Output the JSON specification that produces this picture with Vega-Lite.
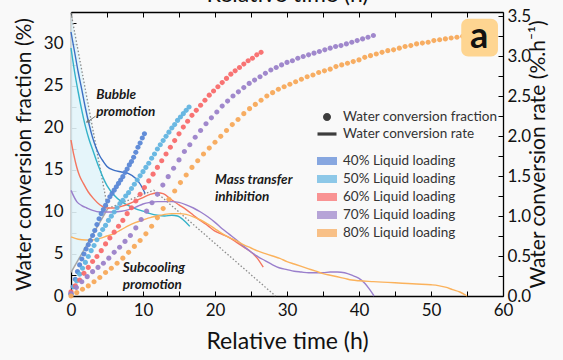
{
"$schema":"https://vega.github.io/schema/vega-lite/v6.json",
"width":432,"height":284,
"autosize":{"type":"none"},
"padding":{"left":71,"top":12,"right":60,"bottom":64},
"background":"#f9f9f9",
"config":{"view":{"stroke":null},"font":"Lato"},
"datasets":{
"rate":[
{"s":"40% Liquid loading","t":0,"r":3.3},{"s":"40% Liquid loading","t":0.5,"r":3.05},{"s":"40% Liquid loading","t":1,"r":2.8},{"s":"40% Liquid loading","t":1.5,"r":2.58},{"s":"40% Liquid loading","t":2,"r":2.35},{"s":"40% Liquid loading","t":2.5,"r":2.15},{"s":"40% Liquid loading","t":3,"r":1.98},{"s":"40% Liquid loading","t":3.5,"r":1.85},{"s":"40% Liquid loading","t":4,"r":1.75},{"s":"40% Liquid loading","t":4.5,"r":1.68},{"s":"40% Liquid loading","t":5,"r":1.62},{"s":"40% Liquid loading","t":6,"r":1.57},{"s":"40% Liquid loading","t":7,"r":1.55},{"s":"40% Liquid loading","t":8,"r":1.53},{"s":"40% Liquid loading","t":9,"r":1.47},{"s":"40% Liquid loading","t":9.6,"r":1.4},{"s":"40% Liquid loading","t":10.3,"r":1.28},
{"s":"50% Liquid loading","t":0,"r":3.1},{"s":"50% Liquid loading","t":0.5,"r":2.8},{"s":"50% Liquid loading","t":1,"r":2.55},{"s":"50% Liquid loading","t":1.5,"r":2.32},{"s":"50% Liquid loading","t":2,"r":2.12},{"s":"50% Liquid loading","t":2.5,"r":1.96},{"s":"50% Liquid loading","t":3,"r":1.83},{"s":"50% Liquid loading","t":3.5,"r":1.7},{"s":"50% Liquid loading","t":4,"r":1.58},{"s":"50% Liquid loading","t":4.5,"r":1.47},{"s":"50% Liquid loading","t":5,"r":1.38},{"s":"50% Liquid loading","t":6,"r":1.26},{"s":"50% Liquid loading","t":7,"r":1.18},{"s":"50% Liquid loading","t":8,"r":1.13},{"s":"50% Liquid loading","t":9,"r":1.09},{"s":"50% Liquid loading","t":10,"r":1.06},{"s":"50% Liquid loading","t":11,"r":1.03},{"s":"50% Liquid loading","t":12,"r":1.01},{"s":"50% Liquid loading","t":13,"r":1.0},{"s":"50% Liquid loading","t":14,"r":1.01},{"s":"50% Liquid loading","t":14.8,"r":1.0},{"s":"50% Liquid loading","t":15.5,"r":0.96},{"s":"50% Liquid loading","t":16.5,"r":0.87},
{"s":"60% Liquid loading","t":0,"r":1.95},{"s":"60% Liquid loading","t":0.4,"r":1.76},{"s":"60% Liquid loading","t":0.8,"r":1.61},{"s":"60% Liquid loading","t":1.2,"r":1.5},{"s":"60% Liquid loading","t":1.7,"r":1.41},{"s":"60% Liquid loading","t":2.4,"r":1.3},{"s":"60% Liquid loading","t":3.1,"r":1.22},{"s":"60% Liquid loading","t":4,"r":1.14},{"s":"60% Liquid loading","t":5,"r":1.1},{"s":"60% Liquid loading","t":6,"r":1.1},{"s":"60% Liquid loading","t":7,"r":1.12},{"s":"60% Liquid loading","t":8,"r":1.15},{"s":"60% Liquid loading","t":9,"r":1.19},{"s":"60% Liquid loading","t":10,"r":1.23},{"s":"60% Liquid loading","t":11,"r":1.27},{"s":"60% Liquid loading","t":12,"r":1.29},{"s":"60% Liquid loading","t":12.8,"r":1.28},{"s":"60% Liquid loading","t":14,"r":1.2},{"s":"60% Liquid loading","t":15,"r":1.14},{"s":"60% Liquid loading","t":16,"r":1.08},{"s":"60% Liquid loading","t":17,"r":1.01},{"s":"60% Liquid loading","t":18,"r":0.94},{"s":"60% Liquid loading","t":19,"r":0.88},{"s":"60% Liquid loading","t":20,"r":0.81},{"s":"60% Liquid loading","t":21,"r":0.77},{"s":"60% Liquid loading","t":22,"r":0.73},{"s":"60% Liquid loading","t":23,"r":0.67},{"s":"60% Liquid loading","t":24,"r":0.61},{"s":"60% Liquid loading","t":25,"r":0.55},{"s":"60% Liquid loading","t":25.8,"r":0.48},{"s":"60% Liquid loading","t":26.7,"r":0.36},
{"s":"70% Liquid loading","t":0,"r":1.32},{"s":"70% Liquid loading","t":0.8,"r":1.18},{"s":"70% Liquid loading","t":1.5,"r":1.13},{"s":"70% Liquid loading","t":2.2,"r":1.1},{"s":"70% Liquid loading","t":3,"r":1.07},{"s":"70% Liquid loading","t":4,"r":1.05},{"s":"70% Liquid loading","t":5,"r":1.05},{"s":"70% Liquid loading","t":6,"r":1.05},{"s":"70% Liquid loading","t":7,"r":1.06},{"s":"70% Liquid loading","t":8,"r":1.08},{"s":"70% Liquid loading","t":9,"r":1.11},{"s":"70% Liquid loading","t":10,"r":1.15},{"s":"70% Liquid loading","t":11,"r":1.17},{"s":"70% Liquid loading","t":12,"r":1.18},{"s":"70% Liquid loading","t":13,"r":1.18},{"s":"70% Liquid loading","t":14,"r":1.18},{"s":"70% Liquid loading","t":15,"r":1.17},{"s":"70% Liquid loading","t":16,"r":1.14},{"s":"70% Liquid loading","t":17,"r":1.1},{"s":"70% Liquid loading","t":18,"r":1.05},{"s":"70% Liquid loading","t":19,"r":0.99},{"s":"70% Liquid loading","t":20,"r":0.92},{"s":"70% Liquid loading","t":21,"r":0.84},{"s":"70% Liquid loading","t":22,"r":0.77},{"s":"70% Liquid loading","t":23,"r":0.7},{"s":"70% Liquid loading","t":24,"r":0.62},{"s":"70% Liquid loading","t":25,"r":0.55},{"s":"70% Liquid loading","t":26,"r":0.49},{"s":"70% Liquid loading","t":27,"r":0.44},{"s":"70% Liquid loading","t":28,"r":0.39},{"s":"70% Liquid loading","t":29,"r":0.35},{"s":"70% Liquid loading","t":30,"r":0.33},{"s":"70% Liquid loading","t":31,"r":0.31},{"s":"70% Liquid loading","t":32,"r":0.3},{"s":"70% Liquid loading","t":33,"r":0.29},{"s":"70% Liquid loading","t":34,"r":0.29},{"s":"70% Liquid loading","t":35,"r":0.29},{"s":"70% Liquid loading","t":36,"r":0.3},{"s":"70% Liquid loading","t":37,"r":0.3},{"s":"70% Liquid loading","t":38,"r":0.29},{"s":"70% Liquid loading","t":39,"r":0.26},{"s":"70% Liquid loading","t":40,"r":0.22},{"s":"70% Liquid loading","t":40.8,"r":0.16},{"s":"70% Liquid loading","t":41.5,"r":0.08},{"s":"70% Liquid loading","t":42.1,"r":0.0},
{"s":"80% Liquid loading","t":0,"r":0.74},{"s":"80% Liquid loading","t":1,"r":0.71},{"s":"80% Liquid loading","t":2,"r":0.7},{"s":"80% Liquid loading","t":3,"r":0.7},{"s":"80% Liquid loading","t":4,"r":0.72},{"s":"80% Liquid loading","t":5,"r":0.75},{"s":"80% Liquid loading","t":6,"r":0.78},{"s":"80% Liquid loading","t":7,"r":0.83},{"s":"80% Liquid loading","t":8,"r":0.88},{"s":"80% Liquid loading","t":9,"r":0.92},{"s":"80% Liquid loading","t":10,"r":0.95},{"s":"80% Liquid loading","t":11,"r":0.98},{"s":"80% Liquid loading","t":12,"r":1.0},{"s":"80% Liquid loading","t":13,"r":1.02},{"s":"80% Liquid loading","t":14,"r":1.03},{"s":"80% Liquid loading","t":15,"r":1.03},{"s":"80% Liquid loading","t":16,"r":1.02},{"s":"80% Liquid loading","t":17,"r":0.99},{"s":"80% Liquid loading","t":18,"r":0.95},{"s":"80% Liquid loading","t":19,"r":0.9},{"s":"80% Liquid loading","t":20,"r":0.84},{"s":"80% Liquid loading","t":21,"r":0.78},{"s":"80% Liquid loading","t":22,"r":0.73},{"s":"80% Liquid loading","t":23,"r":0.69},{"s":"80% Liquid loading","t":24,"r":0.64},{"s":"80% Liquid loading","t":25,"r":0.6},{"s":"80% Liquid loading","t":26,"r":0.56},{"s":"80% Liquid loading","t":27,"r":0.53},{"s":"80% Liquid loading","t":28,"r":0.5},{"s":"80% Liquid loading","t":29,"r":0.47},{"s":"80% Liquid loading","t":30,"r":0.43},{"s":"80% Liquid loading","t":31,"r":0.4},{"s":"80% Liquid loading","t":32,"r":0.37},{"s":"80% Liquid loading","t":33,"r":0.34},{"s":"80% Liquid loading","t":34,"r":0.31},{"s":"80% Liquid loading","t":35,"r":0.28},{"s":"80% Liquid loading","t":36,"r":0.26},{"s":"80% Liquid loading","t":37,"r":0.24},{"s":"80% Liquid loading","t":38,"r":0.22},{"s":"80% Liquid loading","t":39,"r":0.2},{"s":"80% Liquid loading","t":40,"r":0.19},{"s":"80% Liquid loading","t":42,"r":0.18},{"s":"80% Liquid loading","t":44,"r":0.17},{"s":"80% Liquid loading","t":46,"r":0.16},{"s":"80% Liquid loading","t":48,"r":0.15},{"s":"80% Liquid loading","t":50,"r":0.14},{"s":"80% Liquid loading","t":51,"r":0.13},{"s":"80% Liquid loading","t":52,"r":0.11},{"s":"80% Liquid loading","t":53,"r":0.08},{"s":"80% Liquid loading","t":54,"r":0.05},{"s":"80% Liquid loading","t":55,"r":0.0}
],
"frac":[
{"s":"40% Liquid loading","t":0,"f":0.2},{"s":"40% Liquid loading","t":0.3,"f":1.1},{"s":"40% Liquid loading","t":0.6,"f":2.0},{"s":"40% Liquid loading","t":0.9,"f":2.9},{"s":"40% Liquid loading","t":1.2,"f":3.7},{"s":"40% Liquid loading","t":1.5,"f":4.4},{"s":"40% Liquid loading","t":1.8,"f":5.0},{"s":"40% Liquid loading","t":2.1,"f":5.6},{"s":"40% Liquid loading","t":2.4,"f":6.1},{"s":"40% Liquid loading","t":2.7,"f":6.6},{"s":"40% Liquid loading","t":3.0,"f":7.2},{"s":"40% Liquid loading","t":3.3,"f":7.8},{"s":"40% Liquid loading","t":3.6,"f":8.5},{"s":"40% Liquid loading","t":3.9,"f":9.2},{"s":"40% Liquid loading","t":4.2,"f":9.8},{"s":"40% Liquid loading","t":4.5,"f":10.3},{"s":"40% Liquid loading","t":4.8,"f":10.8},{"s":"40% Liquid loading","t":5.1,"f":11.3},{"s":"40% Liquid loading","t":5.4,"f":11.8},{"s":"40% Liquid loading","t":5.7,"f":12.2},{"s":"40% Liquid loading","t":6.0,"f":12.6},{"s":"40% Liquid loading","t":6.3,"f":13.0},{"s":"40% Liquid loading","t":6.6,"f":13.4},{"s":"40% Liquid loading","t":6.9,"f":13.8},{"s":"40% Liquid loading","t":7.2,"f":14.2},{"s":"40% Liquid loading","t":7.5,"f":14.7},{"s":"40% Liquid loading","t":7.8,"f":15.1},{"s":"40% Liquid loading","t":8.1,"f":15.6},{"s":"40% Liquid loading","t":8.4,"f":16.0},{"s":"40% Liquid loading","t":8.7,"f":16.5},{"s":"40% Liquid loading","t":9.0,"f":17.1},{"s":"40% Liquid loading","t":9.3,"f":17.7},{"s":"40% Liquid loading","t":9.6,"f":18.2},{"s":"40% Liquid loading","t":9.9,"f":18.8},{"s":"40% Liquid loading","t":10.2,"f":19.3},
{"s":"50% Liquid loading","t":0,"f":0.3},{"s":"50% Liquid loading","t":0.4,"f":1.1},{"s":"50% Liquid loading","t":0.8,"f":1.8},{"s":"50% Liquid loading","t":1.2,"f":2.6},{"s":"50% Liquid loading","t":1.6,"f":3.3},{"s":"50% Liquid loading","t":2.0,"f":4.0},{"s":"50% Liquid loading","t":2.4,"f":4.7},{"s":"50% Liquid loading","t":2.8,"f":5.4},{"s":"50% Liquid loading","t":3.2,"f":6.0},{"s":"50% Liquid loading","t":3.6,"f":6.7},{"s":"50% Liquid loading","t":4.0,"f":7.3},{"s":"50% Liquid loading","t":4.4,"f":7.9},{"s":"50% Liquid loading","t":4.8,"f":8.4},{"s":"50% Liquid loading","t":5.2,"f":9.0},{"s":"50% Liquid loading","t":5.6,"f":9.5},{"s":"50% Liquid loading","t":6.0,"f":10.0},{"s":"50% Liquid loading","t":6.4,"f":10.5},{"s":"50% Liquid loading","t":6.8,"f":11.0},{"s":"50% Liquid loading","t":7.2,"f":11.4},{"s":"50% Liquid loading","t":7.6,"f":11.9},{"s":"50% Liquid loading","t":8.0,"f":12.3},{"s":"50% Liquid loading","t":8.4,"f":12.8},{"s":"50% Liquid loading","t":8.8,"f":13.3},{"s":"50% Liquid loading","t":9.2,"f":13.8},{"s":"50% Liquid loading","t":9.6,"f":14.3},{"s":"50% Liquid loading","t":10.0,"f":14.8},{"s":"50% Liquid loading","t":10.4,"f":15.3},{"s":"50% Liquid loading","t":10.8,"f":15.8},{"s":"50% Liquid loading","t":11.2,"f":16.4},{"s":"50% Liquid loading","t":11.6,"f":16.9},{"s":"50% Liquid loading","t":12.0,"f":17.5},{"s":"50% Liquid loading","t":12.4,"f":18.0},{"s":"50% Liquid loading","t":12.8,"f":18.5},{"s":"50% Liquid loading","t":13.2,"f":19.0},{"s":"50% Liquid loading","t":13.6,"f":19.5},{"s":"50% Liquid loading","t":14.0,"f":20.0},{"s":"50% Liquid loading","t":14.4,"f":20.4},{"s":"50% Liquid loading","t":14.8,"f":20.9},{"s":"50% Liquid loading","t":15.2,"f":21.3},{"s":"50% Liquid loading","t":15.6,"f":21.7},{"s":"50% Liquid loading","t":16.0,"f":22.1},{"s":"50% Liquid loading","t":16.4,"f":22.5},
{"s":"60% Liquid loading","t":0,"f":0.5},{"s":"60% Liquid loading","t":0.6,"f":1.2},{"s":"60% Liquid loading","t":1.2,"f":1.9},{"s":"60% Liquid loading","t":1.8,"f":2.7},{"s":"60% Liquid loading","t":2.4,"f":3.4},{"s":"60% Liquid loading","t":3.0,"f":4.1},{"s":"60% Liquid loading","t":3.6,"f":4.7},{"s":"60% Liquid loading","t":4.2,"f":5.4},{"s":"60% Liquid loading","t":4.8,"f":6.2},{"s":"60% Liquid loading","t":5.4,"f":6.9},{"s":"60% Liquid loading","t":6.0,"f":7.6},{"s":"60% Liquid loading","t":6.6,"f":8.3},{"s":"60% Liquid loading","t":7.2,"f":9.0},{"s":"60% Liquid loading","t":7.8,"f":9.8},{"s":"60% Liquid loading","t":8.4,"f":10.5},{"s":"60% Liquid loading","t":9.0,"f":11.3},{"s":"60% Liquid loading","t":9.6,"f":12.1},{"s":"60% Liquid loading","t":10.2,"f":12.9},{"s":"60% Liquid loading","t":10.8,"f":13.7},{"s":"60% Liquid loading","t":11.4,"f":14.5},{"s":"60% Liquid loading","t":12.0,"f":15.3},{"s":"60% Liquid loading","t":12.6,"f":16.1},{"s":"60% Liquid loading","t":13.2,"f":16.9},{"s":"60% Liquid loading","t":13.8,"f":17.7},{"s":"60% Liquid loading","t":14.4,"f":18.5},{"s":"60% Liquid loading","t":15.0,"f":19.3},{"s":"60% Liquid loading","t":15.6,"f":20.1},{"s":"60% Liquid loading","t":16.2,"f":20.8},{"s":"60% Liquid loading","t":16.8,"f":21.5},{"s":"60% Liquid loading","t":17.4,"f":22.1},{"s":"60% Liquid loading","t":18.0,"f":22.7},{"s":"60% Liquid loading","t":18.6,"f":23.3},{"s":"60% Liquid loading","t":19.2,"f":23.9},{"s":"60% Liquid loading","t":19.8,"f":24.4},{"s":"60% Liquid loading","t":20.4,"f":24.9},{"s":"60% Liquid loading","t":21.0,"f":25.4},{"s":"60% Liquid loading","t":21.6,"f":25.9},{"s":"60% Liquid loading","t":22.2,"f":26.4},{"s":"60% Liquid loading","t":22.8,"f":26.8},{"s":"60% Liquid loading","t":23.4,"f":27.2},{"s":"60% Liquid loading","t":24.0,"f":27.6},{"s":"60% Liquid loading","t":24.6,"f":28.0},{"s":"60% Liquid loading","t":25.2,"f":28.3},{"s":"60% Liquid loading","t":25.8,"f":28.7},{"s":"60% Liquid loading","t":26.4,"f":29.0},
{"s":"70% Liquid loading","t":0,"f":0.3},{"s":"70% Liquid loading","t":0.75,"f":1.0},{"s":"70% Liquid loading","t":1.5,"f":1.7},{"s":"70% Liquid loading","t":2.25,"f":2.3},{"s":"70% Liquid loading","t":3.0,"f":2.9},{"s":"70% Liquid loading","t":3.75,"f":3.4},{"s":"70% Liquid loading","t":4.5,"f":3.9},{"s":"70% Liquid loading","t":5.25,"f":4.5},{"s":"70% Liquid loading","t":6.0,"f":5.2},{"s":"70% Liquid loading","t":6.75,"f":5.8},{"s":"70% Liquid loading","t":7.5,"f":6.5},{"s":"70% Liquid loading","t":8.25,"f":7.2},{"s":"70% Liquid loading","t":9.0,"f":8.1},{"s":"70% Liquid loading","t":9.75,"f":9.1},{"s":"70% Liquid loading","t":10.5,"f":10.1},{"s":"70% Liquid loading","t":11.25,"f":11.1},{"s":"70% Liquid loading","t":12.0,"f":12.1},{"s":"70% Liquid loading","t":12.75,"f":13.2},{"s":"70% Liquid loading","t":13.5,"f":14.2},{"s":"70% Liquid loading","t":14.25,"f":15.2},{"s":"70% Liquid loading","t":15.0,"f":16.2},{"s":"70% Liquid loading","t":15.75,"f":17.2},{"s":"70% Liquid loading","t":16.5,"f":18.0},{"s":"70% Liquid loading","t":17.25,"f":18.9},{"s":"70% Liquid loading","t":18.0,"f":19.7},{"s":"70% Liquid loading","t":18.75,"f":20.5},{"s":"70% Liquid loading","t":19.5,"f":21.2},{"s":"70% Liquid loading","t":20.25,"f":21.9},{"s":"70% Liquid loading","t":21.0,"f":22.6},{"s":"70% Liquid loading","t":21.75,"f":23.2},{"s":"70% Liquid loading","t":22.5,"f":23.8},{"s":"70% Liquid loading","t":23.25,"f":24.3},{"s":"70% Liquid loading","t":24.0,"f":24.8},{"s":"70% Liquid loading","t":24.75,"f":25.3},{"s":"70% Liquid loading","t":25.5,"f":25.7},{"s":"70% Liquid loading","t":26.25,"f":26.1},{"s":"70% Liquid loading","t":27.0,"f":26.5},{"s":"70% Liquid loading","t":27.75,"f":26.9},{"s":"70% Liquid loading","t":28.5,"f":27.2},{"s":"70% Liquid loading","t":29.25,"f":27.5},{"s":"70% Liquid loading","t":30.0,"f":27.8},{"s":"70% Liquid loading","t":30.75,"f":28.0},{"s":"70% Liquid loading","t":31.5,"f":28.3},{"s":"70% Liquid loading","t":32.25,"f":28.5},{"s":"70% Liquid loading","t":33.0,"f":28.7},{"s":"70% Liquid loading","t":33.75,"f":28.9},{"s":"70% Liquid loading","t":34.5,"f":29.1},{"s":"70% Liquid loading","t":35.25,"f":29.3},{"s":"70% Liquid loading","t":36.0,"f":29.5},{"s":"70% Liquid loading","t":36.75,"f":29.7},{"s":"70% Liquid loading","t":37.5,"f":29.8},{"s":"70% Liquid loading","t":38.25,"f":30.0},{"s":"70% Liquid loading","t":39.0,"f":30.2},{"s":"70% Liquid loading","t":39.75,"f":30.4},{"s":"70% Liquid loading","t":40.5,"f":30.6},{"s":"70% Liquid loading","t":41.25,"f":30.8},{"s":"70% Liquid loading","t":42.0,"f":31.0},
{"s":"80% Liquid loading","t":0,"f":0.0},{"s":"80% Liquid loading","t":0.8,"f":0.4},{"s":"80% Liquid loading","t":1.6,"f":0.8},{"s":"80% Liquid loading","t":2.4,"f":1.2},{"s":"80% Liquid loading","t":3.2,"f":1.7},{"s":"80% Liquid loading","t":4.0,"f":2.2},{"s":"80% Liquid loading","t":4.8,"f":2.8},{"s":"80% Liquid loading","t":5.6,"f":3.3},{"s":"80% Liquid loading","t":6.4,"f":3.9},{"s":"80% Liquid loading","t":7.2,"f":4.5},{"s":"80% Liquid loading","t":8.0,"f":5.2},{"s":"80% Liquid loading","t":8.8,"f":5.9},{"s":"80% Liquid loading","t":9.6,"f":6.6},{"s":"80% Liquid loading","t":10.4,"f":7.4},{"s":"80% Liquid loading","t":11.2,"f":8.3},{"s":"80% Liquid loading","t":12.0,"f":9.3},{"s":"80% Liquid loading","t":12.8,"f":10.4},{"s":"80% Liquid loading","t":13.6,"f":11.5},{"s":"80% Liquid loading","t":14.4,"f":12.5},{"s":"80% Liquid loading","t":15.2,"f":13.5},{"s":"80% Liquid loading","t":16.0,"f":14.4},{"s":"80% Liquid loading","t":16.8,"f":15.3},{"s":"80% Liquid loading","t":17.6,"f":16.1},{"s":"80% Liquid loading","t":18.4,"f":16.9},{"s":"80% Liquid loading","t":19.2,"f":17.6},{"s":"80% Liquid loading","t":20.0,"f":18.3},{"s":"80% Liquid loading","t":20.8,"f":19.0},{"s":"80% Liquid loading","t":21.6,"f":19.7},{"s":"80% Liquid loading","t":22.4,"f":20.4},{"s":"80% Liquid loading","t":23.2,"f":21.0},{"s":"80% Liquid loading","t":24.0,"f":21.7},{"s":"80% Liquid loading","t":24.8,"f":22.3},{"s":"80% Liquid loading","t":25.6,"f":22.8},{"s":"80% Liquid loading","t":26.4,"f":23.3},{"s":"80% Liquid loading","t":27.2,"f":23.8},{"s":"80% Liquid loading","t":28.0,"f":24.2},{"s":"80% Liquid loading","t":28.8,"f":24.6},{"s":"80% Liquid loading","t":29.6,"f":24.9},{"s":"80% Liquid loading","t":30.4,"f":25.2},{"s":"80% Liquid loading","t":31.2,"f":25.5},{"s":"80% Liquid loading","t":32.0,"f":25.8},{"s":"80% Liquid loading","t":32.8,"f":26.1},{"s":"80% Liquid loading","t":33.6,"f":26.3},{"s":"80% Liquid loading","t":34.4,"f":26.6},{"s":"80% Liquid loading","t":35.2,"f":26.8},{"s":"80% Liquid loading","t":36.0,"f":27.0},{"s":"80% Liquid loading","t":36.8,"f":27.3},{"s":"80% Liquid loading","t":37.6,"f":27.5},{"s":"80% Liquid loading","t":38.4,"f":27.7},{"s":"80% Liquid loading","t":39.2,"f":27.9},{"s":"80% Liquid loading","t":40.0,"f":28.1},{"s":"80% Liquid loading","t":40.8,"f":28.4},{"s":"80% Liquid loading","t":41.6,"f":28.6},{"s":"80% Liquid loading","t":42.4,"f":28.8},{"s":"80% Liquid loading","t":43.2,"f":29.0},{"s":"80% Liquid loading","t":44.0,"f":29.2},{"s":"80% Liquid loading","t":44.8,"f":29.3},{"s":"80% Liquid loading","t":45.6,"f":29.5},{"s":"80% Liquid loading","t":46.4,"f":29.7},{"s":"80% Liquid loading","t":47.2,"f":29.8},{"s":"80% Liquid loading","t":48.0,"f":30.0},{"s":"80% Liquid loading","t":48.8,"f":30.1},{"s":"80% Liquid loading","t":49.6,"f":30.2},{"s":"80% Liquid loading","t":50.4,"f":30.4},{"s":"80% Liquid loading","t":51.2,"f":30.5},{"s":"80% Liquid loading","t":52.0,"f":30.6},{"s":"80% Liquid loading","t":52.8,"f":30.7},{"s":"80% Liquid loading","t":53.6,"f":30.8},{"s":"80% Liquid loading","t":54.4,"f":30.9}
]
},
"resolve":{"scale":{"y":"independent","color":"independent"},"axis":{"x":"independent","y":"independent"}},
"layer":[
{"data":{"values":[{"t":0,"hi":33.7,"lo":2.8},{"t":5.1,"hi":10.4,"lo":10.4}]},
 "mark":{"type":"area","color":"#e2f4f9","opacity":0.9},
 "encoding":{
  "x":{"field":"t","type":"quantitative","scale":{"domain":[0,60],"nice":false},
   "axis":{"orient":"bottom","values":[0,5,10,15,20,25,30,35,40,45,50,55,60],"labelExpr":"datum.value % 10 === 0 ? datum.label : ''","labelOverlap":false,"labelFlush":false,"title":"Relative time (h)","titleFont":"Lato","titleFontSize":23,"titleFontWeight":"normal","titleColor":"#111","titlePadding":12,"labelFont":"Lato","labelFontSize":17,"labelColor":"#111","labelPadding":11,"tickSize":-5,"tickColor":"#000","domainColor":"#000","domainWidth":1.3,"grid":false}},
  "y":{"field":"hi","type":"quantitative","scale":{"domain":[0,33.8],"nice":false},
   "axis":{"orient":"left","values":[0,2.5,5,7.5,10,12.5,15,17.5,20,22.5,25,27.5,30,32.5],"labelExpr":"datum.value % 5 === 0 ? datum.label : ''","labelOverlap":false,"labelFlush":false,"title":"Water conversion fraction (%)","titleFont":"Lato","titleFontSize":21,"titleFontWeight":"normal","titleColor":"#111","titlePadding":9,"labelFont":"Lato","labelFontSize":17,"labelColor":"#111","labelPadding":13,"tickSize":-5,"tickColor":"#000","domainColor":"#000","domainWidth":1.3,"grid":false}},
  "y2":{"field":"lo"}}},
{"data":{"values":[{"t":0,"v":2.8},{"t":5.1,"v":10.4}]},
 "mark":{"type":"line","color":"#a8a8a8","strokeWidth":1.5},
 "encoding":{"x":{"field":"t","type":"quantitative","scale":{"domain":[0,60],"nice":false},"axis":null},
  "y":{"field":"v","type":"quantitative","scale":{"domain":[0,33.8],"nice":false},"axis":null}}},
{"data":{"values":[{"t":0,"v":33.7},{"t":5.1,"v":10.4},{"t":11.5,"v":12.6},{"t":28.4,"v":0}]},
 "mark":{"type":"line","color":"#8c8c8c","strokeWidth":1.3,"strokeDash":[1.5,2]},
 "encoding":{"x":{"field":"t","type":"quantitative","scale":{"domain":[0,60],"nice":false},"axis":null},
  "y":{"field":"v","type":"quantitative","scale":{"domain":[0,33.8],"nice":false},"axis":null}}},
{"data":{"name":"rate"},
 "mark":{"type":"line","strokeWidth":1.4,"interpolate":"monotone"},
 "encoding":{
  "x":{"field":"t","type":"quantitative","scale":{"domain":[0,60],"nice":false},
   "axis":{"orient":"top","values":[0,5,10,15,20,25,30,35,40,45,50,55,60],"labels":false,"title":"Relative time (h)","titleFont":"Lato","titleFontSize":23,"titleFontWeight":"normal","titleColor":"#111","titlePadding":5,"tickSize":-5,"tickColor":"#000","domainColor":"#000","domainWidth":1.3,"grid":false}},
  "y":{"field":"r","type":"quantitative","scale":{"domain":[0,3.55],"nice":false},
   "axis":{"orient":"right","values":[0,0.25,0.5,0.75,1,1.25,1.5,1.75,2,2.25,2.5,2.75,3,3.25,3.5],"labelExpr":"datum.value % 0.5 === 0 ? format(datum.value,'.1f') : ''","labelOverlap":false,"labelFlush":false,"title":"Water conversion rate (%.h⁻¹)","titleAngle":270,"titleFont":"Lato","titleFontSize":21,"titleFontWeight":"normal","titleColor":"#111","titlePadding":18,"labelFont":"Lato","labelFontSize":17,"labelColor":"#111","labelPadding":9,"tickSize":-5,"tickColor":"#000","domainColor":"#000","domainWidth":1.3,"grid":false}},
  "color":{"field":"s","type":"nominal","scale":{"domain":["40% Liquid loading","50% Liquid loading","60% Liquid loading","70% Liquid loading","80% Liquid loading"],"range":["#3d6fc4","#34b2c9","#f4755f","#9a7fcc","#fbb25c"]},"legend":null}}},
{"data":{"name":"frac"},
 "mark":{"type":"point","filled":true,"size":165,"opacity":0.95},
 "encoding":{
  "x":{"field":"t","type":"quantitative","scale":{"domain":[0,60],"nice":false},"axis":null},
  "y":{"field":"f","type":"quantitative","scale":{"domain":[0,33.8],"nice":false},"axis":null},
  "color":{"field":"s","type":"nominal","scale":{"domain":["40% Liquid loading","50% Liquid loading","60% Liquid loading","70% Liquid loading","80% Liquid loading"],"range":["#5a87d6","#62b4e0","#f86b6b","#9b82c9","#f7a95a"]},
   "legend":{"orient":"none","legendX":246,"legendY":139,"title":null,"padding":0,"symbolType":"M-1,-0.4H1V0.4H-1Z","symbolSize":400,"symbolStrokeWidth":0,"symbolOpacity":0.72,"labelFont":"Lato","labelFontSize":13.5,"labelColor":"#333","labelOffset":6,"rowPadding":1}},
  "shape":{"datum":"Water conversion fraction","scale":{"domain":["Water conversion fraction","Water conversion rate"],"range":["M-0.4,0A0.4,0.4,0,1,1,0.4,0A0.4,0.4,0,1,1,-0.4,0Z","M-0.95,-0.16H0.95V0.16H-0.95Z"]},
   "legend":{"orient":"none","legendX":246,"legendY":95,"title":null,"padding":0,"symbolSize":400,"symbolFillColor":"#333","symbolStrokeWidth":0,"labelFont":"Lato","labelFontSize":13.5,"labelColor":"#333","labelOffset":6,"rowPadding":0,
    "encode":{"symbols":{"update":{"fill":{"value":"#333"},"opacity":{"value":1}}}}}}}},
{"data":{"values":[{"t":3.5,"v":23.9,"label":"Bubble\npromotion"},{"t":20.0,"v":13.8,"label":"Mass transfer\ninhibition"},{"t":7.2,"v":3.35,"label":"Subcooling\npromotion"}]},
 "mark":{"type":"text","align":"left","baseline":"middle","font":"Lato","fontSize":13.5,"fontStyle":"italic","fontWeight":"bold","color":"#1a1a1a","lineBreak":"\n","lineHeight":17},
 "encoding":{"x":{"field":"t","type":"quantitative","scale":{"domain":[0,60],"nice":false},"axis":null},
  "y":{"field":"v","type":"quantitative","scale":{"domain":[0,33.8],"nice":false},"axis":null},
  "text":{"field":"label"}}},
{"data":{"values":[{"t":3.4,"v":21.4,"t2":2.5,"v2":20.85}]},
 "mark":{"type":"rule","color":"#777","strokeWidth":1},
 "encoding":{"x":{"field":"t","type":"quantitative","scale":{"domain":[0,60],"nice":false},"axis":null},
  "y":{"field":"v","type":"quantitative","scale":{"domain":[0,33.8],"nice":false},"axis":null},
  "x2":{"field":"t2"},"y2":{"field":"v2"}}},
{"data":{"values":[{"t":2.3,"v":20.75}]},
 "mark":{"type":"point","shape":"triangle-up","filled":true,"size":22,"angle":243,"color":"#777","opacity":1},
 "encoding":{"x":{"field":"t","type":"quantitative","scale":{"domain":[0,60],"nice":false},"axis":null},
  "y":{"field":"v","type":"quantitative","scale":{"domain":[0,33.8],"nice":false},"axis":null}}},
{"data":{"values":[{"t":54.2,"t2":59.3,"v":28.5,"v2":33.0}]},
 "mark":{"type":"rect","color":"#fed591","cornerRadius":7},
 "encoding":{"x":{"field":"t","type":"quantitative","scale":{"domain":[0,60],"nice":false},"axis":null},
  "x2":{"field":"t2"},
  "y":{"field":"v","type":"quantitative","scale":{"domain":[0,33.8],"nice":false},"axis":null},
  "y2":{"field":"v2"}}},
{"data":{"values":[{"t":56.7,"v":29.5,"label":"a"}]},
 "mark":{"type":"text","align":"center","baseline":"alphabetic","font":"Lato","fontSize":36,"fontWeight":"bold","color":"#111"},
 "encoding":{"x":{"field":"t","type":"quantitative","scale":{"domain":[0,60],"nice":false},"axis":null},
  "y":{"field":"v","type":"quantitative","scale":{"domain":[0,33.8],"nice":false},"axis":null},
  "text":{"field":"label"}}}
]
}
